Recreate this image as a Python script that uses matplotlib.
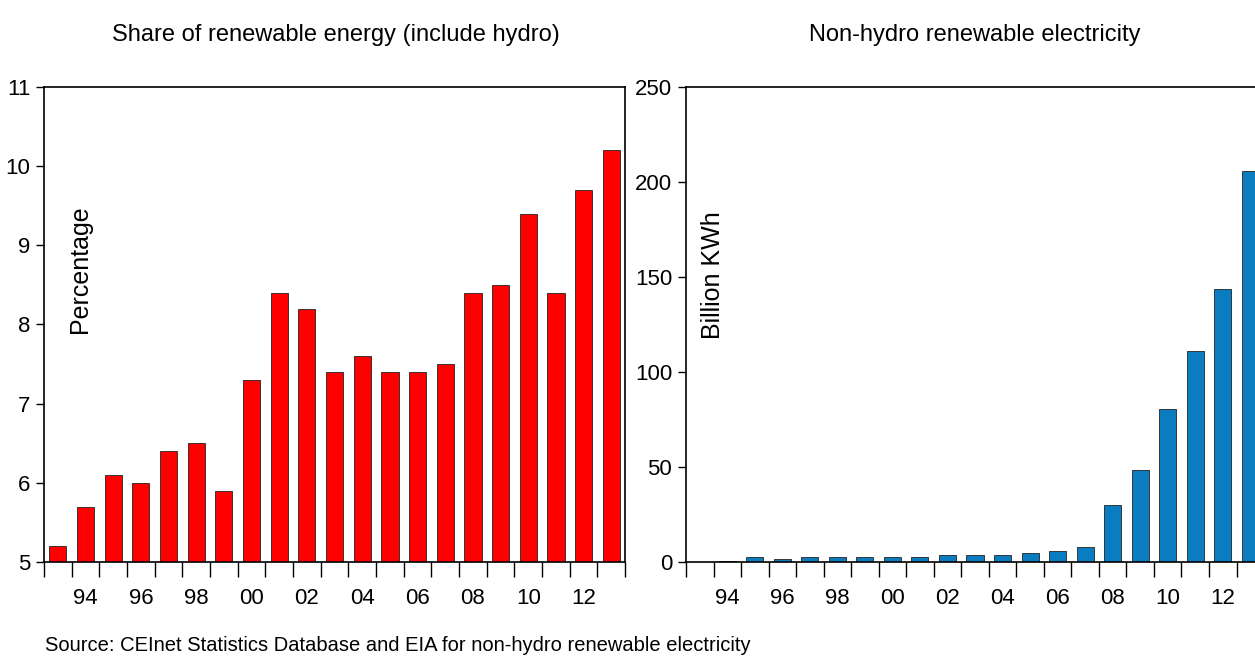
import matplotlib
matplotlib.use("Agg")
import matplotlib.pyplot as plt
from matplotlib.ticker import FixedLocator, NullFormatter

# values
years = list(range(1993, 2014))
share_pct = [5.2, 5.7, 6.1, 6.0, 6.4, 6.5, 5.9, 7.3, 8.4, 8.2, 7.4,
             7.6, 7.4, 7.4, 7.5, 8.4, 8.5, 9.4, 8.4, 9.7, 10.2]
nonhydro_bkwh = [0.2, 0.5, 2.8, 1.4, 2.8, 2.6, 2.8, 2.8, 2.8, 3.5, 3.5,
                 3.5, 4.6, 5.8, 8.1, 30.2, 48.6, 80.4, 111, 143.5, 206]
label_years = [1994, 1996, 1998, 2000, 2002, 2004, 2006, 2008, 2010, 2012]
tick_labels = ["94", "96", "98", "00", "02", "04", "06", "08", "10", "12"]

font = ["Liberation Sans", "DejaVu Sans"]
plt.rcParams["font.family"] = font

fig = plt.figure(figsize=(12.55, 6.57), dpi=100)
ax1 = fig.add_axes([0.0351, 0.1446, 0.463, 0.723])
ax2 = fig.add_axes([0.5466, 0.1446, 0.4606, 0.723])


def style_axis(ax, vals, color, ylim, yticks, ylabel, ylab_xy):
    ax.bar(years, vals, width=0.62, color=color, edgecolor="#222222",
           linewidth=0.6, zorder=2)
    ax.set_xlim(years[0] - 0.5, years[-1] + 0.5)
    ax.set_ylim(*ylim)
    ax.set_yticks(yticks)
    # tick marks sit between the years, labels under every second bar
    ax.xaxis.set_major_locator(FixedLocator(label_years))
    ax.set_xticklabels(tick_labels)
    ax.xaxis.set_minor_locator(FixedLocator([y - 0.5 for y in years] + [years[-1] + 0.5]))
    ax.xaxis.set_minor_formatter(NullFormatter())
    ax.tick_params(axis="x", which="major", length=0, pad=19, labelsize=16)
    ax.tick_params(axis="x", which="minor", length=11, width=1.0, direction="out")
    ax.tick_params(axis="y", length=6, width=1.0, direction="out", pad=4, labelsize=16)
    for sp in ax.spines.values():
        sp.set_linewidth(1.2)
    ax.text(ylab_xy[0], ylab_xy[1], ylabel, transform=ax.transAxes, rotation=90,
            ha="center", va="center", fontsize=18)


style_axis(ax1, share_pct, "#ff0000", (5, 11), [5, 6, 7, 8, 9, 10, 11],
           "Percentage", (0.062, 0.617))
style_axis(ax2, nonhydro_bkwh, "#0a7cc0", (0, 250), [0, 50, 100, 150, 200, 250],
           "Billion KWh", (0.047, 0.604))

fig.text(0.2677, 0.9467, "Share of renewable energy (include hydro)",
         ha="center", va="center", fontsize=17)
fig.text(0.777, 0.9467, "Non-hydro renewable electricity",
         ha="center", va="center", fontsize=17)
fig.text(0.036, 0.018, "Source: CEInet Statistics Database and EIA for non-hydro renewable electricity",
         ha="left", va="center", fontsize=14.5)

fig.savefig("out.png", dpi=100)
